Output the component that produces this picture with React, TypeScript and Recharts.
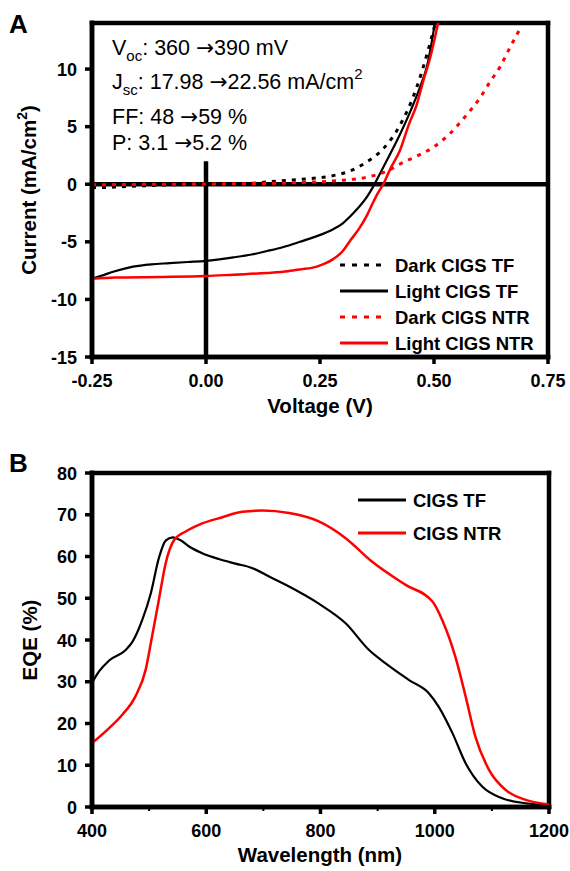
import React from 'react';
import { LineChart, Line, XAxis, YAxis, ReferenceLine } from 'recharts';

const FONT = "Arial, 'Liberation Sans', Helvetica, sans-serif";
const ARROW_FONT = "'DejaVu Sans', sans-serif";
const RED = '#ff0000';
const BLACK = '#000000';

// ---------- Panel A: J-V curves ----------
const darkTF_V = [-0.25, -0.2, -0.15, -0.1, 0, 0.1, 0.134, 0.206, 0.279, 0.316, 0.351, 0.389, 0.425, 0.462, 0.484, 0.503];
const darkTF_J = [-0.3, -0.25, -0.15, -0.08, 0, 0.08, 0.2, 0.42, 0.75, 1.15, 1.9, 3.1, 5.1, 8.4, 11.2, 14.0];

const lightTF_V = [-0.25, -0.23, -0.2, -0.16, -0.12, -0.08, -0.04, 0, 0.06, 0.1, 0.134, 0.17, 0.206, 0.24, 0.279, 0.3, 0.316, 0.335, 0.353, 0.366, 0.38, 0.397, 0.425, 0.45, 0.47, 0.485, 0.502];
const lightTF_J = [-8.2, -7.95, -7.55, -7.15, -6.95, -6.85, -6.75, -6.65, -6.35, -6.1, -5.8, -5.45, -5.0, -4.55, -3.9, -3.4, -2.8, -2.0, -1.1, -0.25, 0.8, 2.1, 4.3, 6.5, 8.5, 10.3, 14.0];

const darkNTR_V = [-0.25, -0.1, 0, 0.1, 0.206, 0.3, 0.351, 0.4, 0.425, 0.46, 0.498, 0.535, 0.571, 0.601, 0.623, 0.645, 0.663, 0.69];
const darkNTR_J = [-0.05, 0, 0.02, 0.06, 0.15, 0.35, 0.6, 1.2, 1.75, 2.4, 3.2, 4.4, 6.0, 7.5, 8.9, 10.2, 11.6, 13.6];

const lightNTR_V = [-0.25, -0.2, -0.1, 0, 0.06, 0.134, 0.18, 0.206, 0.243, 0.26, 0.279, 0.3, 0.316, 0.335, 0.353, 0.365, 0.375, 0.39, 0.405, 0.425, 0.445, 0.462, 0.478, 0.491, 0.509];
const lightNTR_J = [-8.2, -8.1, -8.05, -7.97, -7.85, -7.7, -7.55, -7.4, -7.15, -6.9, -6.5, -5.8, -4.9, -3.9, -2.7, -1.7, -0.9, 0.1, 1.4, 2.9, 5.2, 6.9, 9.2, 10.9, 14.0];

const voltageTicks = [-0.25, 0, 0.25, 0.5, 0.75];
const currentTicks = [-15, -10, -5, 0, 5, 10];

// ---------- Panel B: EQE ----------
const tf_L = [400, 412, 430, 459, 471, 488, 503, 517, 529, 541, 555, 570, 593, 622, 651, 681, 710, 745, 797, 844, 885, 914, 955, 990, 1007, 1031, 1054, 1083, 1118, 1159, 1200];
const tf_E = [29.7, 32.4, 35.1, 37.6, 39.6, 44.8, 51.2, 59.6, 63.8, 64.6, 63.9, 62.4, 60.8, 59.4, 58.3, 57.2, 55.2, 52.8, 48.7, 44.0, 37.6, 34.4, 30.4, 27.2, 24.0, 17.7, 10.5, 4.9, 2.1, 0.9, 0.5];

const ntr_L = [400, 430, 453, 476, 494, 505, 517, 529, 544, 564, 587, 628, 663, 698, 745, 797, 844, 890, 949, 996, 1013, 1036, 1054, 1071, 1095, 1124, 1159, 1200];
const ntr_E = [15.3, 18.9, 22.1, 26.5, 32.9, 40.8, 49.6, 58.4, 64.0, 66.0, 67.6, 69.4, 70.7, 71.0, 70.4, 68.4, 64.4, 58.8, 53.2, 49.2, 44.8, 36.0, 26.5, 16.9, 8.9, 4.1, 1.7, 0.6];

const wavelengthTicks = [400, 500, 600, 700, 800, 900, 1000, 1100, 1200];
const eqeTicks = [0, 10, 20, 30, 40, 50, 60, 70, 80];

const zip = (xs: number[], ys: number[]) => xs.map((x, i) => ({ x, y: ys[i] }));

const seriesA = [
  { name: 'Dark CIGS TF', data: zip(darkTF_V, darkTF_J), color: BLACK, dash: '4 6', width: 3 },
  { name: 'Light CIGS TF', data: zip(lightTF_V, lightTF_J), color: BLACK, dash: undefined, width: 2.2 },
  { name: 'Dark CIGS NTR', data: zip(darkNTR_V, darkNTR_J), color: RED, dash: '4 6', width: 3 },
  { name: 'Light CIGS NTR', data: zip(lightNTR_V, lightNTR_J), color: RED, dash: undefined, width: 2.5 },
];

const seriesB = [
  { name: 'CIGS TF', data: zip(tf_L, tf_E), color: BLACK, width: 2.2 },
  { name: 'CIGS NTR', data: zip(ntr_L, ntr_E), color: RED, width: 2.5 },
];

const TICK_FS = 18;
const AXIS_W = 4.5;
const axisLineStyle = { stroke: BLACK, strokeWidth: AXIS_W, strokeLinecap: 'square' as const };

const XTickA = (props: any) => {
  const { x, y, payload } = props;
  return (
    <g>
      <line x1={x} x2={x} y1={y} y2={y + 7} stroke={BLACK} strokeWidth={3.5} />
      <text x={x} y={y + 30} textAnchor="middle" fontFamily={FONT} fontWeight="bold" fontSize={TICK_FS} fill={BLACK}>
        {Number(payload.value).toFixed(2)}
      </text>
    </g>
  );
};

const XTickB = (props: any) => {
  const { x, y, payload } = props;
  const major = payload.value % 200 === 0;
  return (
    <g>
      <line x1={x} x2={x} y1={y} y2={y + (major ? 7 : 4)} stroke={BLACK} strokeWidth={major ? 3.5 : 2} />
      {major && (
        <text x={x} y={y + 30} textAnchor="middle" fontFamily={FONT} fontWeight="bold" fontSize={TICK_FS} fill={BLACK}>
          {payload.value}
        </text>
      )}
    </g>
  );
};

const YTick = (props: any) => {
  const { x, y, payload } = props;
  return (
    <g>
      <line x1={x - 7} x2={x} y1={y} y2={y} stroke={BLACK} strokeWidth={3.5} />
      <text x={x - 15} y={y + 6.5} textAnchor="end" fontFamily={FONT} fontWeight="bold" fontSize={TICK_FS} fill={BLACK}>
        {payload.value}
      </text>
    </g>
  );
};

const Arrow = () => <tspan fontFamily={ARROW_FONT}>→</tspan>;

const frameProps = { stroke: BLACK, strokeWidth: AXIS_W, strokeLinecap: 'square' as const, ifOverflow: 'visible' as const };

const ANN_FS = 21.5;
const SUB_FS = 15;

export default function App() {
  return (
    <div style={{ position: 'absolute', left: 0, top: 0, width: 570, height: 871, background: '#fff' }}>
      <div style={{ position: 'absolute', left: 0, top: 0 }}>
        <LineChart width={570} height={430} margin={{ top: 23, right: 22, bottom: 33, left: 0 }}>
          <XAxis
            type="number"
            dataKey="x"
            domain={[-0.25, 0.75]}
            ticks={voltageTicks}
            allowDataOverflow
            height={40}
            tickSize={0}
            tickMargin={0}
            tickLine={false}
            tick={<XTickA />}
            axisLine={axisLineStyle}
          />
          <YAxis
            type="number"
            dataKey="y"
            domain={[-15, 14]}
            ticks={currentTicks}
            allowDataOverflow
            width={92}
            tickSize={0}
            tickMargin={0}
            tickLine={false}
            tick={<YTick />}
            axisLine={axisLineStyle}
          />
          <ReferenceLine y={14} {...frameProps} />
          <ReferenceLine y={-15} {...frameProps} />
          <ReferenceLine x={-0.25} {...frameProps} />
          <ReferenceLine x={0.75} {...frameProps} />
          <ReferenceLine y={0} stroke={BLACK} strokeWidth={AXIS_W} ifOverflow="visible" />
          <ReferenceLine segment={[{ x: 0, y: -15 }, { x: 0, y: 2 }]} stroke={BLACK} strokeWidth={AXIS_W} ifOverflow="visible" />
          {seriesA.map((s) => (
            <Line
              key={s.name}
              data={s.data}
              dataKey="y"
              name={s.name}
              type="monotone"
              stroke={s.color}
              strokeWidth={s.width}
              strokeDasharray={s.dash}
              dot={false}
              activeDot={false}
              isAnimationActive={false}
            />
          ))}
        </LineChart>
      </div>
      <div style={{ position: 'absolute', left: 0, top: 440 }}>
        <LineChart width={570} height={431} margin={{ top: 33, right: 21, bottom: 24, left: 0 }}>
          <XAxis
            type="number"
            dataKey="x"
            domain={[400, 1200]}
            ticks={wavelengthTicks}
            allowDataOverflow
            height={40}
            tickSize={0}
            tickMargin={0}
            tickLine={false}
            tick={<XTickB />}
            axisLine={axisLineStyle}
          />
          <YAxis
            type="number"
            dataKey="y"
            domain={[0, 80]}
            ticks={eqeTicks}
            allowDataOverflow
            width={92}
            tickSize={0}
            tickMargin={0}
            tickLine={false}
            tick={<YTick />}
            axisLine={axisLineStyle}
          />
          <ReferenceLine y={80} {...frameProps} />
          <ReferenceLine y={0} {...frameProps} />
          <ReferenceLine x={400} {...frameProps} />
          <ReferenceLine x={1200} {...frameProps} />
          {seriesB.map((s) => (
            <Line
              key={s.name}
              data={s.data}
              dataKey="y"
              name={s.name}
              type="monotone"
              stroke={s.color}
              strokeWidth={s.width}
              dot={false}
              activeDot={false}
              isAnimationActive={false}
            />
          ))}
        </LineChart>
      </div>
      <svg width={570} height={871} style={{ position: 'absolute', left: 0, top: 0, pointerEvents: 'none' }}>
        <g fontFamily={FONT} fill={BLACK}>
          <text x={9} y={33} fontSize={26} fontWeight="bold">A</text>
          <text x={9} y={472} fontSize={26} fontWeight="bold">B</text>

          {/* annotations */}
          <text x={112} y={55} fontSize={ANN_FS}>
            <tspan>V</tspan>
            <tspan fontSize={SUB_FS} dy={6}>oc</tspan>
            <tspan dy={-6}>: 360 </tspan>
            <Arrow />
            <tspan>390 mV</tspan>
          </text>
          <text x={112} y={89} fontSize={ANN_FS}>
            <tspan>J</tspan>
            <tspan fontSize={SUB_FS} dy={6}>sc</tspan>
            <tspan dy={-6}>: 17.98 </tspan>
            <Arrow />
            <tspan>22.56 mA/cm</tspan>
            <tspan fontSize={SUB_FS} dy={-10}>2</tspan>
          </text>
          <text x={112} y={124} fontSize={ANN_FS}>
            <tspan>FF: 48 </tspan>
            <Arrow />
            <tspan>59 %</tspan>
          </text>
          <text x={112} y={150} fontSize={ANN_FS}>
            <tspan>P: 3.1 </tspan>
            <Arrow />
            <tspan>5.2 %</tspan>
          </text>

          {/* axis titles */}
          <text x={320} y={413} fontSize={20.5} fontWeight="bold" textAnchor="middle">Voltage (V)</text>
          <text transform="rotate(-90 36 190)" x={36} y={190} fontSize={20.5} fontWeight="bold" textAnchor="middle">
            <tspan>Current (mA/cm</tspan>
            <tspan fontSize={14} dy={-9}>2</tspan>
            <tspan dy={9}>)</tspan>
          </text>
          <text x={320} y={862} fontSize={20.5} fontWeight="bold" textAnchor="middle">Wavelength (nm)</text>
          <text transform="rotate(-90 37 640)" x={37} y={640} fontSize={20.5} fontWeight="bold" textAnchor="middle">EQE (%)</text>

          {/* legend A */}
          {seriesA.map((s, i) => {
            const cy = 265 + i * 26;
            return (
              <g key={s.name}>
                <line x1={340} x2={388} y1={cy} y2={cy} stroke={s.color} strokeWidth={3} strokeDasharray={s.dash ? '5 7' : undefined} />
                <text x={395} y={cy + 6.5} fontSize={18.5} fontWeight="bold">{s.name}</text>
              </g>
            );
          })}

          {/* legend B */}
          {seriesB.map((s, i) => {
            const cy = 500 + i * 33;
            return (
              <g key={s.name}>
                <line x1={358} x2={406} y1={cy} y2={cy} stroke={s.color} strokeWidth={3} />
                <text x={413} y={cy + 6.5} fontSize={18.5} fontWeight="bold">{s.name}</text>
              </g>
            );
          })}
        </g>
      </svg>
    </div>
  );
}
